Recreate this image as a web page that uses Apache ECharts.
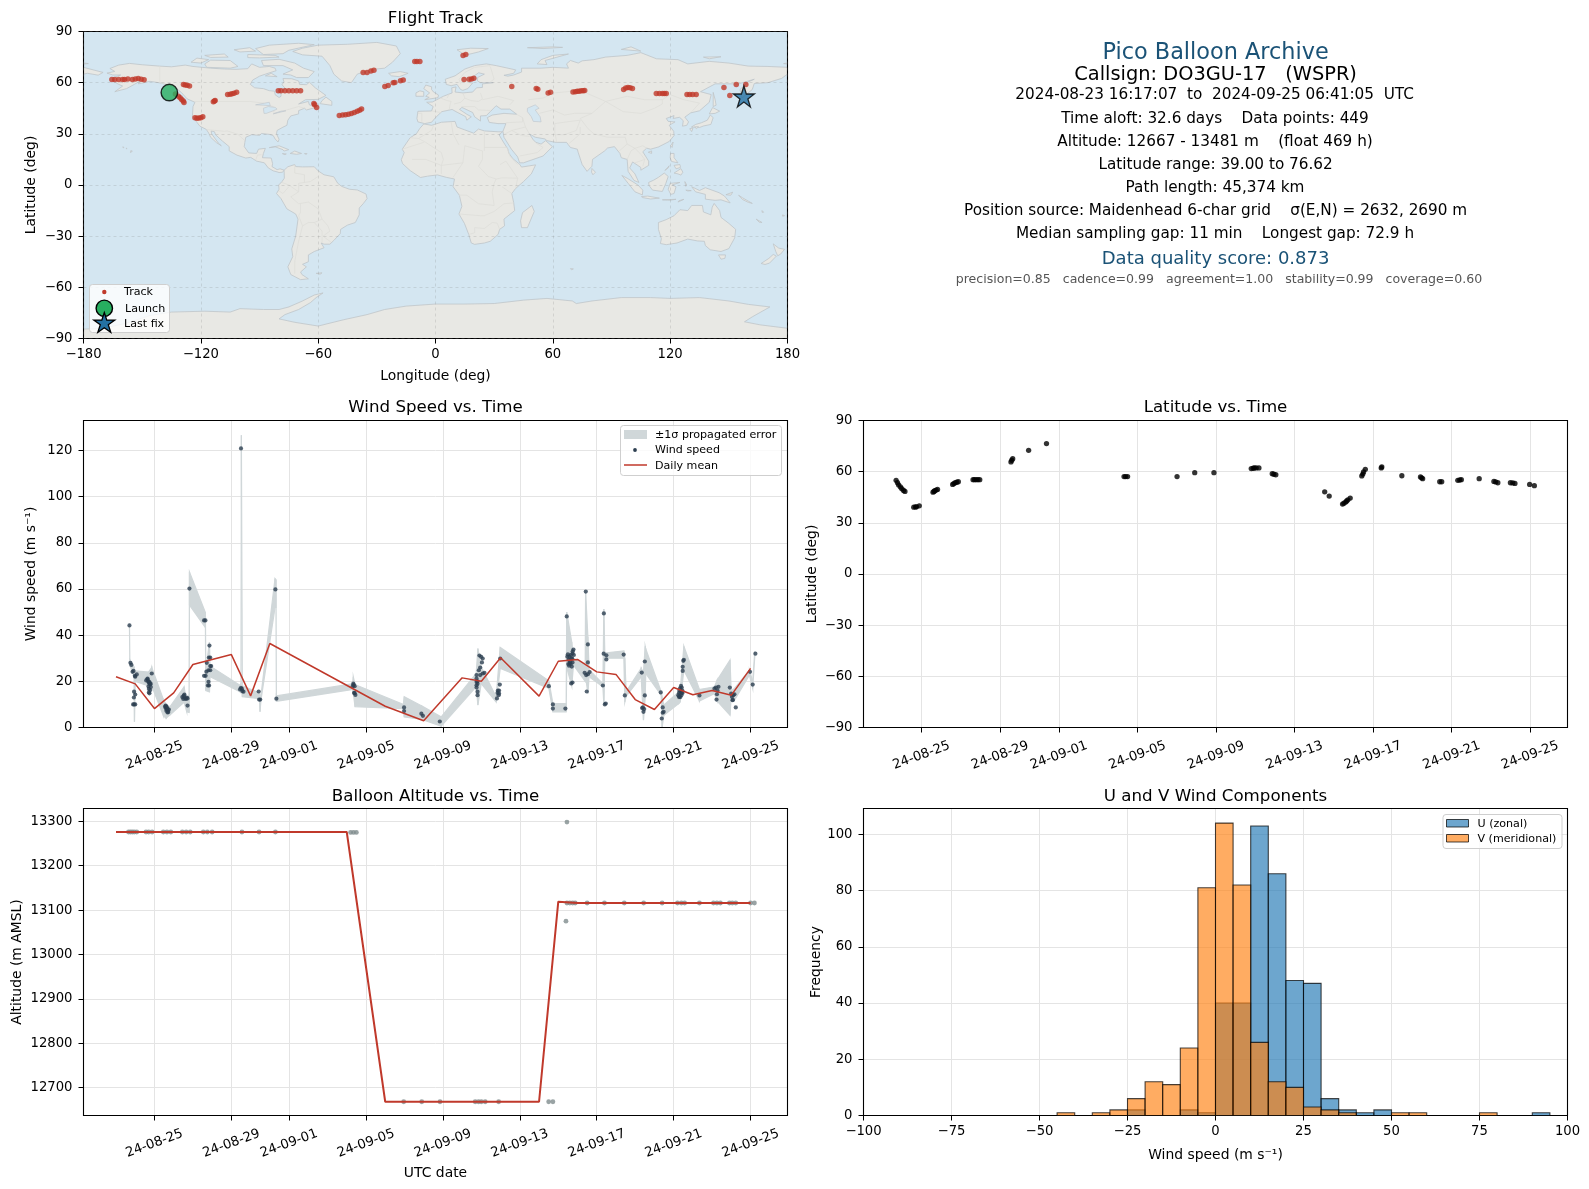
<!DOCTYPE html>
<html><head><meta charset="utf-8">
<style>html,body{margin:0;padding:0;background:#fff}#c{width:1589px;height:1189px}</style>
<script src="https://cdn.jsdelivr.net/npm/echarts@6/dist/echarts.min.js"></script>
</head><body><div id="c"></div>
<script>
// ---------- time ticks (dates) ----------
const dateTicks=['2024-08-25','2024-08-29','2024-09-01','2024-09-05','2024-09-09','2024-09-13','2024-09-17','2024-09-21','2024-09-25'];
// All time series are given in days since 2024-08-25 00:00 UTC.
const trackPoints=[[-165.5,61.9],[-164,61.9],[-162,61.9],[-160,61.9],[-159,61.9],[-157.3,62.2],[-155,61.9],[-153.5,62.2],[-152,62.4],[-150.5,62],[-149,61.7],
[-133,53.3],[-131.5,52.1],[-130.6,51.2],[-129.8,50.1],[-129,49.2],[-128.6,48.4],
[-128.9,58.9],[-128,58.7],[-127,58.5],[-125.8,58],
[-123,39.4],[-122,39.1],[-121,39.3],[-120,39.5],[-119,40],
[-113.6,48.8],[-113,49.3],[-112.7,49.6],
[-106.3,53],[-105,53.2],[-104,53.5],[-103,53.8],[-101.7,54.4],
[-80.4,55.3],[-79,55.2],[-77,55.2],[-75,55.2],[-73,55.2],[-71,55.2],[-69,55.2],
[-62.2,47.8],[-61.8,47],[-60.8,45.4],
[-49.2,40.8],[-47.5,41],[-46,41.2],[-44.5,41.5],[-43,41.9],[-41.5,42.5],[-40,43.2],[-38.8,43.8],[-37.8,44.5],
[-37,66],[-35,66],[-33,66.8],[-31.5,67.3],
[-25.9,57.8],[-24.2,58.4],[-21.6,59.9],[-20.8,60.1],[-17.9,61.1],[-16.5,61.5],
[-10.6,72.4],[-9.5,72.4],[-8,72.4],
[14.1,75.9],[15.5,76.5],
[14.6,61.9],[17.2,62],[18.4,62.2],[19.6,62.6],
[39,57.8],[51.5,56.6],[52.3,56.2],[57.6,54],[58.8,54.4],
[70.3,54.6],[71.5,54.7],[72.5,55],[73.5,55],[74.5,55.2],[75.5,55.3],[76.3,55.4],
[96.2,56],[97.3,56.8],[98.4,57.2],[99.5,57],[100.7,56.6],
[112.9,53.7],[114.5,53.7],[116,53.7],[117,53.7],[118,53.7],
[128.6,53],[130,53],[131.5,53],[133.3,53],
[147.5,57.2],[150.5,52.5],[153.8,58.9],[158.7,58.9]];
const launchPoint=[-136.1,54.2];
const lastFixPoint=[157.7,51.9];

const windPoints=[[-1.3,44.2],[-1.25,28],[-1.2,27.1],[-1.14,24.1],[-1.09,24.5],[-1.06,15.5],[-1,14.3],[-1.07,13],[-1.06,10],[-1.11,10],[-1,10],[-0.92,23],[-1,22],[-1.02,22.4],
[-0.36,21.2],[-0.43,20.4],[-0.31,19.7],[-0.26,19],[-0.36,20.9],[-0.26,19.7],[-0.22,18.7],[-0.31,17.8],[-0.19,17.5],[-0.29,16.7],[-0.22,16.2],[-0.29,15.2],[-0.31,20],[-0.14,23.4],[-0.2,19],[-0.26,14.8],
[0.55,9],[0.58,9.5],[0.6,8.3],[0.63,8.8],[0.65,7.8],[0.67,8.3],[0.7,7.3],[0.72,6.7],[0.62,7.3],[0.68,6.5],[0.75,7.8],[0.6,9.2],
[1.45,13.2],[1.5,12.4],[1.52,13.8],[1.56,14.2],[1.6,12.6],[1.64,12.4],[1.68,13],[1.72,12.6],[1.72,9.5],[1.82,60.2],
[2.58,46.4],[2.65,46.4],[2.86,35.5],[2.83,30.3],[2.9,30.3],[2.72,28],[2.9,26.6],[2.95,26.6],[2.81,24.8],[2.9,24.8],[2.7,24.2],[2.66,22.4],[2.58,22.4],[2.81,19.8],[2.78,18.2],[2.84,18.2],
[4.5,120.9],[4.45,16.5],[4.5,17.2],[4.55,16.7],[4.57,15.8],[4.63,15.5],[5.42,15.6],[5.44,12.1],[5.5,12.1],[6.29,59.8],[6.34,12.5],
[10.34,19],[10.31,17.9],[10.41,17.9],[10.36,18.5],[10.41,14.9],[10.45,14.1],[10.38,15],
[12.98,8.7],[12.98,7.1],[13.88,6],[13.96,5.05],[14.84,2.6],
[16.75,22.7],[16.75,21.2],[16.75,19.8],[16.75,18.3],[16.75,17.3],[16.8,15.5],[16.8,14],[16.9,31.2],[16.99,30.6],[17.07,29.9],[17.03,28.2],[16.94,26],[16.87,24.8],[16.94,22.7],[17.07,23.4],[17.16,23.7],[16.8,20],[16.8,19],
[17.98,29.9],[17.96,18.6],[17.86,16],[17.92,14.7],[17.9,14],[17.81,12.6],[17.84,15],[17.92,16],
[20.51,17.9],[20.72,10],[20.72,8.2],[21.37,8.2],[21.44,48.1],
[21.79,33.8],[21.5,31.7],[21.58,30.7],[21.65,31.4],[21.74,32.1],[21.54,29.3],[21.6,27.8],[21.72,29.9],[21.81,31.4],[21.47,30.7],[21.52,27.5],[21.65,27.5],[21.74,28.2],[21.56,26.8],[21.7,26.4],[21.62,28.6],[21.68,30],[21.75,33],
[21.67,19.1],[21.74,19.5],[22.43,58.9],[22.54,36],[22.54,28.2],[22.37,23.7],[22.45,22.7],[22.54,23.1],[22.63,24],[22.48,15.6],
[23.32,18.2],[23.37,49.4],[23.36,32],[23.5,31.3],[23.5,29.5],[23.42,10],[23.47,10.4],[24.4,31.6],[24.46,13.9],
[25.34,23.8],[25.5,28.6],[25.5,13.9],[25.4,8.7],[25.47,8],[25.43,6.8],[25.36,8.4],[26.33,15.2],[26.43,8.7],[26.48,6.8],[26.43,6.4],[26.38,3.9],
[27.53,29.3],[27.5,28.9],[27.47,26.3],[27.47,24.5],[27.24,14],[27.28,15],[27.3,16],[27.33,17],[27.38,18],[27.42,17.3],[27.45,16],[27.3,13.5],[27.35,13.2],[27.4,14],[27.46,15],[27.28,13.2],[27.36,15.5],[27.42,15],
[28.34,13.9],[29.12,16.8],[29.2,17.3],[29.33,17.6],[29.25,14.4],[29.23,12.1],[29.28,16],[29.92,17.3],[29.99,14.7],[30.16,14.4],[30.03,13.3],[30.06,11.8],[30.23,8.7],[30.1,14],[30.08,12],
[30.97,24.1],[31.11,18.6],[31.25,32]];
// fill-between band: [day, lower, upper]
const windBand=[[-1.3,43.5,45],[-1.28,27,29.5],[-1.06,22,26.3],[-1.04,2.5,17],[-1,20,24.5],[-0.31,18,24],[-0.14,18,26],[0.47,5,12],[0.61,4,10],[0.81,5.5,9],[1.54,11,17.6],[1.68,6.8,11],[1.8,6.5,14],[1.82,53,67.4],[2.65,43.3,49.8],[2.67,16,25],[2.86,15.4,37],[2.89,22,26.6],[4.45,15.5,18.3],[4.5,15,19],[4.52,115,126.6],[4.57,13.3,18],[5.46,12.5,15],[5.49,6.8,13],[5.54,12,14],[6.27,52,64.5],[6.32,52,64],[6.34,11.4,14],[6.36,11.4,13.7],[10.31,16.5,19],[10.34,15,22],[10.43,9,18.6],[12.94,8.2,10],[12.99,4.6,13.3],[13.89,3.5,9.4],[14.91,0.6,4.6],[16.73,17.6,23.4],[16.82,9.7,34.2],[16.99,19,26.3],[17.77,11,13.3],[17.98,25.6,34.7],[20.51,17,20.2],[20.72,6.8,10.4],[21.41,6.8,10.4],[21.44,26,50],[21.7,18,37],[21.79,27,30],[22.4,20,27],[22.42,22,58.9],[22.54,14.7,39.3],[22.6,22,25],[23.32,17.6,19],[23.37,10,51.3],[23.42,30,32.3],[24.41,30,33.2],[24.46,11,30],[24.53,13.5,15.5],[25.31,22,25.6],[25.43,3.2,24],[25.52,13,35.2],[25.55,23.4,34],[26.35,14,15.5],[26.4,0,13],[26.49,5.3,9.7],[27.27,10.4,15.5],[27.34,11,16],[27.53,24.8,35.2],[28.34,11.5,16.5],[29.12,14.7,17.6],[29.26,11.5,20.5],[29.93,5.3,29.2],[29.99,13,16],[30.16,11.8,16.9],[30.94,22.7,24.8],[31.11,17,20],[31.22,31,33]];
const windMean=[[-2,22],[-1,18.9],[0,8.2],[1,15],[2,27.3],[4,31.6],[5,13.7],[6,36.4],[12,9.2],[14,2.9],[16,21.5],[17,20],[18,30.2],[20,13.6],[21,28.7],[22,29.5],[23,24.1],[24,23],[25,12.1],[26,7.8],[27,17.3],[28,14.2],[29,16],[30,14],[31,25.6]];

const latPoints=[[-1.29,54.9],[-1.22,53.5],[-1.16,52.2],[-1.07,51],[-1,50],[-0.91,49],[-0.84,48.4],
[-0.39,39.2],[-0.3,39.3],[-0.25,39.4],[-0.11,40],
[0.59,48],[0.64,48.4],[0.68,48.8],[0.75,49.2],[0.82,49.6],
[1.59,52.5],[1.65,53],[1.72,53.5],[1.8,53.8],[1.88,54.1],
[2.63,55.3],[2.7,55.3],[2.79,55.3],[2.88,55.3],[2.97,55.3],
[4.56,65.7],[4.6,66.7],[4.65,67.6],[5.46,72.5],[6.37,76.5],
[10.32,57.1],[10.4,57.1],[10.5,57.1],[13.02,57.1],[13.92,59.4],[14.9,59.4],
[16.8,61.8],[16.9,62],[16.96,62.2],[17.05,62.2],[17.19,62.2],[17.87,58.8],[17.95,58.5],[18.05,58.2],
[20.54,48.2],[20.77,45.7],[21.45,41],[21.52,41.5],[21.61,42.2],[21.66,42.8],[21.72,43.5],[21.84,44.5],
[22.43,57.5],[22.48,58.6],[22.52,59.8],[22.61,61.4],[23.42,62.2],[23.45,62.8],[24.47,57.6],[25.42,56.9],[25.48,56.4],[25.53,55.9],
[26.4,54.1],[26.5,54.1],[27.32,54.9],[27.42,55.1],[27.5,55.3],[28.41,55.9],[29.16,54.3],[29.25,54],[29.36,53.5],[30,53.5],[30.12,53.4],[30.23,53.1],[30.98,52.5],[31.22,51.8]];

const altPoints=[[-1.35,13276],[-1.25,13276],[-1.15,13276],[-1.05,13276],[-0.92,13276],[-0.44,13276],[-0.3,13276],[-0.12,13276],[0.46,13276],[0.65,13276],[0.85,13276],[1.45,13276],[1.65,13276],[1.86,13276],[2.54,13276],[2.75,13276],[3,13276],[4.55,13276],[5.44,13276],[6.29,13276],[10.2,13275],[10.35,13275],[10.5,13275],
[12.96,12668],[13.9,12668],[14.85,12668],[16.68,12668],[16.85,12668],[17,12668],[17.2,12668],[17.9,12668],[20.5,12668],[20.72,12668],
[21.45,13298.5],[21.4,13075],[21.45,13116],[21.6,13116],[21.75,13116],[21.88,13116],[22.5,13116],[23.4,13116],[24.43,13116],[25.44,13116],[26.4,13116],[27.2,13116],[27.4,13116],[27.57,13116],[28.34,13116],[29.07,13116],[29.25,13116],[29.43,13116],[29.9,13116],[30.05,13116],[30.23,13116],[31,13116],[31.2,13116]];
const altMean=[[-2,13276],[-1,13276],[0,13276],[1,13276],[2,13276],[4,13276],[5,13276],[6,13276],[10,13276],[12,12668],[14,12668],[16,12668],[17,12668],[18,12668],[20,12668],[21,13119],[22,13116],[23,13116],[24,13116],[25,13116],[26,13116],[27,13116],[28,13116],[29,13116],[30,13116],[31,13116]];

// histogram: bins of 5 m/s: [left edge, count]
const uBins=[[-25,2],[-10,2],[-5,1],[0,40],[5,40],[10,103],[15,86],[20,48],[25,47],[30,6],[35,2],[40,1],[45,2],[90,1]];
const vBins=[[-45,1],[-35,1],[-30,2],[-25,6],[-20,12],[-15,11],[-10,24],[-5,81],[0,104],[5,82],[10,26],[15,12],[20,10],[25,3],[30,2],[35,1],[50,1],[55,1],[75,1]];

const infoLines=[
 ['Pico Balloon Archive',53,22.4,'#1a5276',1215.6],
 ['Callsign: DO3GU-17   (WSPR)',75,19.4,'#000',1215.6],
 ['2024-08-23 16:17:07  to  2024-09-25 06:41:05  UTC',95.5,15.25,'#000',1214.6],
 ['Time aloft: 32.6 days    Data points: 449',119.5,15.25,'#000',1215],
 ['Altitude: 12667 - 13481 m    (float 469 h)',142.5,15.25,'#000',1215],
 ['Latitude range: 39.00 to 76.62',165.5,15.25,'#000',1215.6],
 ['Path length: 45,374 km',188.5,15.25,'#000',1215],
 ['Position source: Maidenhead 6-char grid    σ(E,N) = 2632, 2690 m',211,15.25,'#000',1215.6],
 ['Median sampling gap: 11 min    Longest gap: 72.9 h',234.5,15.25,'#000',1215],
 ['Data quality score: 0.873',259,18,'#1a5276',1215.6],
 ['precision=0.85   cadence=0.99   agreement=1.00   stability=0.99   coverage=0.60',279.5,12.55,'#555',1219]
];

// ---------- approximate world outlines (lon,lat) ----------
const landPolys=[
[[-168,65.6],[-164,66.6],[-166.5,68.3],[-162,70.3],[-156.5,71.3],[-150,70.5],[-141,69.7],[-135,69.3],[-128,70.3],[-124,69.5],[-115,68.5],[-108,68],[-102,67.8],[-96,68.2],[-94,71],[-90,69],[-85,69.5],[-82,68.5],[-81.5,67],[-87,65],[-90,63.8],[-93.5,61.5],[-94.7,59],[-92.5,57],[-88,56.5],[-85,55.3],[-82.3,55],[-82,52.9],[-80,51.3],[-79,52],[-79,54.5],[-76.7,56.5],[-78.5,58.8],[-77.5,60.5],[-78,62.4],[-73.5,62.3],[-70,61],[-69.5,59],[-66,58.8],[-64.5,60.3],[-61.5,57],[-56,52.5],[-60,50.2],[-66.5,50],[-70,47.5],[-65,49],[-64.5,47],[-61,45.5],[-66,44],[-67,45],[-70,43.6],[-70,41.7],[-74,40.5],[-75.5,38],[-76,35],[-78,33.9],[-81,32],[-81.3,30],[-80,26.8],[-80.5,25.2],[-82,27],[-83,29],[-85,29.7],[-89,30.2],[-90,29.1],[-94,29.5],[-97,28],[-97.5,25],[-97.8,22.5],[-95.5,18.8],[-91.5,18.5],[-90.5,21],[-87,21.5],[-88,18.5],[-88.5,16],[-84,15.8],[-83.3,12.5],[-83.6,10.8],[-81,9],[-79.5,9.5],[-77.4,8.7],[-78.2,7.5],[-80,7.3],[-81,7.7],[-83,8.3],[-85.5,10],[-87.5,13],[-91.5,14],[-94.5,16.2],[-97,15.8],[-101.5,17.5],[-105.5,20],[-105.5,22.5],[-109,25.8],[-112.5,29.5],[-113,31.2],[-114.7,31.7],[-114.5,30],[-111,24.5],[-109.5,23],[-112,24.8],[-115,28],[-116,30.5],[-117.2,32.6],[-120.5,34.5],[-122.5,37.5],[-124.3,40.3],[-124,46],[-123,48.5],[-127,50.5],[-130,54.3],[-133,57],[-137,58.5],[-140,59.7],[-146,60.8],[-149,60],[-152,59.3],[-151,61],[-154,59],[-158,56.5],[-164,54.7],[-160,58],[-162,59],[-165,61],[-164,63.2],[-161,64.5],[-165,64.5]],
[[-77.4,8.7],[-75.5,10.7],[-72,12],[-71.5,10.8],[-68,10.6],[-62,10.7],[-60,8.3],[-57,6],[-52,4.8],[-50,1],[-48,-0.8],[-44,-2.5],[-40,-2.9],[-35.5,-5.3],[-35,-8],[-37,-11],[-39,-13.5],[-39,-17.5],[-41,-22],[-45,-23.5],[-48.5,-26],[-48.7,-28.5],[-52,-32.5],[-54,-34.7],[-57,-34.7],[-58.5,-34],[-57,-36.8],[-62,-39],[-65,-41],[-65,-45],[-68,-46.5],[-66,-48],[-69,-51],[-68.3,-52.5],[-65,-55],[-69,-55.5],[-74,-52.5],[-75.5,-48],[-73,-42],[-73.5,-37.5],[-71.5,-30],[-70.3,-20],[-71.5,-17],[-76,-14],[-79,-8],[-81.3,-5],[-80,-2.5],[-80.2,0],[-78.5,2],[-77.3,4],[-77.4,8]],
[[-6,35.8],[-2,35],[3,36.8],[10,37.3],[11,34],[15,32.3],[19.5,30.4],[22,32.8],[25,31.7],[32,31.2],[34.3,31.2],[32.5,29.5],[34,26.5],[37,21],[37.5,18.7],[39.5,15.5],[43,12.2],[44,10.5],[51.2,11.8],[49,6.5],[45,2],[41,-2],[39,-5],[40,-10.5],[40.5,-15],[35,-20],[35.3,-24],[32.8,-26],[32,-29],[28,-33],[25,-34],[20,-34.8],[18.3,-34],[17,-29],[14.8,-22.5],[12,-17],[13.5,-12.5],[12.2,-6],[9,-1],[9.7,3.5],[5.5,4.5],[1,5.9],[-4,5.2],[-7.7,4.4],[-13,8.5],[-16.8,12.5],[-17.5,14.8],[-16,19],[-17,21],[-13,27.7],[-9.8,30],[-8,33.2]],
[[-5.5,36],[-9,37],[-9.5,39],[-9,43.2],[-2,43.4],[-1.2,46],[-4.5,48.5],[-1.5,48.7],[1.5,50.5],[4,52],[8.5,54],[8.3,57],[10.5,57.5],[10,54.5],[14,54],[19,54.5],[21,57],[24,57.2],[24,59.3],[29.5,60],[23,60],[21.5,61],[21.5,63],[25,65],[22,65.8],[17.5,62],[17.5,60],[19,59.8],[16.5,56.5],[14,55.5],[12.8,56],[11,59],[8,58.2],[5.5,59],[5,62],[10,64],[15,68],[20,70],[26,71],[31,70],[41,67.5],[40,65.5],[35,64.3],[37,63.8],[40,64.5],[44,66.2],[44,68.5],[54,68.5],[60,69],[68,68.5],[67,71],[69,73],[73,71.5],[75,72.8],[81,73.5],[87,75],[98,76],[105,77.6],[113,74],[124,73.5],[129,71],[140,72.5],[150,71.5],[160,69.7],[170,69.5],[180,69],[180,65],[177,62.5],[170,60],[163,59.5],[162,56],[156.7,51],[155.7,56],[160,60.5],[163,62],[155,59.3],[143,59.3],[135.5,54.7],[141,53],[140,48.5],[135,43.5],[130.5,42.3],[127.5,39.8],[129.4,37],[128.5,35],[126.3,34.5],[126.7,37.7],[124.8,39.7],[121.5,39],[122,40.7],[118,39],[119,37.3],[122.5,37],[119.5,35],[121.8,31.5],[122,29],[119.5,25.5],[114,22.3],[110,21],[108,21.6],[106,19.5],[109,14],[109,11.5],[105,8.7],[105,10.3],[100.8,13.5],[99.3,10],[102,6.5],[104,1.5],[101.5,2.7],[98.5,8],[98,15],[95,16],[94.3,18.5],[91.5,22.5],[88,21.7],[86.5,20],[80.3,15],[80,11],[77.5,8],[75,12],[73,19],[72.5,21],[69,22],[67,25],[61.5,25],[57,26],[56,27],[51,28],[48,30],[50,26.5],[51.3,25],[54,24],[56.3,26],[59.8,22.5],[55,17],[45,13],[43,13],[42,16.5],[38.8,21],[35,28],[34.5,31.5],[36,36],[32,36],[27.5,36.7],[26.5,39.5],[29,41],[35,42],[41.5,41.5],[38,44.5],[33.5,44.5],[31,46.5],[28,43],[26,40.7],[23,40.5],[23,37.5],[20,40],[19,42.5],[13.5,45.5],[12.3,44.3],[16,41.5],[18.3,40],[16,38],[15.5,40],[10.5,43],[8.5,44.3],[3.2,43],[0,39.5],[-2,36.8]],
[[-73,78.3],[-68,80.2],[-60,82],[-45,82.5],[-30,83.6],[-20,81.5],[-18,77],[-22,72],[-26,68.5],[-33,67.7],[-40,65],[-43,60],[-48,61],[-52,65],[-54,70],[-58,75.5],[-68,76.3]],
[[-80,73.7],[-72,71.5],[-67.5,68.5],[-62,66.5],[-65,63],[-71,63],[-74,64.5],[-78,65],[-73,67.5],[-78,70],[-88,70],[-89,73]],
[[-92,80],[-85,82],[-70,83.1],[-62,82.3],[-75,79],[-78,77],[-88,76.5]],
[[-117,69],[-105,68.5],[-101,69.5],[-105,73],[-115,73.2],[-118,71]],
[[-125,72],[-122,74.4],[-116,73.5],[-120,71.5]],
[[-96,74.7],[-90,74.5],[-80,75],[-82,76],[-96,76.5]],
[[-118,76],[-108,76.8],[-106,75],[-115,74.8]],
[[-100,78],[-92,78.5],[-95,80.5],[-103,79.3]],
[[-87,64],[-81,63.5],[-84,65.5]],
[[-59,47.7],[-53,46.7],[-53,49],[-56,51.5],[-58,49.5]],
[[-85,21.9],[-80,23],[-75,20.7],[-77.5,19.9],[-78,20.7],[-82,22.4]],
[[-74.3,18.5],[-72,19.9],[-68.5,18.5],[-71,18]],
[[-78.3,18.4],[-76.3,18.2],[-77,17.8]],
[[-67,18.4],[-65.7,18.4],[-66,18]],
[[-160,22.2],[-159.3,22.2],[-159.5,21.8]],
[[-158.2,21.6],[-157.7,21.4],[-158,21.2]],
[[-156,19],[-155,19.8],[-155.8,20.2]],
[[-24,65.5],[-18,66.5],[-14,65.5],[-18.5,63.5],[-22.5,64]],
[[-5.5,50],[1.3,51.2],[1.5,52.8],[-1,54.5],[-2,56],[-2,57.6],[-5,58.6],[-6,56.5],[-3,54],[-5,52],[-3.2,51.4]],
[[-10,52],[-6,52],[-6,54.7],[-8,55.2],[-10,54]],
[[14,77],[17,76.6],[22,78],[27,80],[18,80.2],[11,79.3]],
[[52,71],[57,70.6],[56,73],[68,76.8],[60,76],[54,73.5]],
[[95,79.5],[105,78.5],[100,81]],
[[137,75],[146,75.2],[140,74]],
[[178,71.2],[180,71.5],[180,70.9]],
[[-180,71.5],[-177.5,71.2],[-180,70.9]],
[[47,80.5],[60,81],[65,80.7],[55,80]],
[[142,54.3],[143,50],[143.5,46.8],[142,46],[142,50]],
[[130.9,34],[133,35.5],[136,36.5],[139,38],[140.5,41],[142,39.5],[140.8,35.5],[137,34.6],[135,33.7]],
[[130,33],[131.7,33.5],[131,31.3]],
[[132.5,34],[134.5,34.2],[133.5,33]],
[[140,41.7],[141.7,45.4],[145.3,43.3],[143,42]],
[[120.2,23],[121.5,25.2],[121,22]],
[[108.8,19.2],[110.5,20],[110.5,18.5]],
[[120.2,18.5],[122,18.5],[122,16],[124,13],[120.7,13.8],[120,16]],
[[122,7],[125.5,9.6],[126.5,7.5],[125.5,5.8],[124,6.5]],
[[122,11.5],[125,12],[125.3,10.3],[123,9.5]],
[[117.3,8.5],[119.5,11.3],[119,10]],
[[109,1.5],[111.5,2.8],[114,4.5],[117,7],[119,5],[117.8,1],[116,-3.8],[111,-3],[109.2,-0.3]],
[[95.3,5.6],[98,4],[103.5,0],[106,-3],[105.8,-5.8],[102,-4],[98.5,1]],
[[105.3,-6.8],[108.5,-6.5],[114.5,-7.7],[110,-8.2],[106,-7.4]],
[[120,1],[125,1.5],[121,0],[123,-1],[122,-5],[120.3,-5.5],[119,-2.5]],
[[131,-1],[135,-3.2],[138,-1.6],[145,-4.5],[147.8,-6.5],[150.7,-10.5],[146,-8.7],[143,-9],[138,-8.3],[138,-5.5],[133,-4]],
[[148.5,-5.7],[152,-4.2],[151,-6]],
[[124,-10],[127,-8.4],[124.5,-9.2]],
[[116,-8.7],[123,-8.4],[120,-8.9]],
[[127.5,2],[128.5,0],[128,-0.8]],
[[128,-3],[130.8,-3.3],[129,-3.5]],
[[155,-6],[157,-7.5],[160,-9.5],[162,-10.8],[160,-10.2],[157,-8.5]],
[[164,-20],[167,-22],[165.5,-21.8]],
[[177.5,-17.5],[178.5,-18],[177.5,-18.3]],
[[167,-15],[167.8,-16],[167,-16]],
[[80,9.7],[81.8,7.5],[80.5,6],[79.8,7.5]],
[[49.3,-12],[50.5,-15.5],[47,-25],[44,-25],[43.5,-21],[44.5,-16.2]],
[[114,-22],[114,-26],[115.5,-31.5],[115,-34.3],[118,-35],[123.5,-34],[129,-31.7],[134,-32.8],[137.5,-33],[138,-35.5],[140.5,-38],[146,-39],[150,-37.3],[153,-31],[153.5,-26],[150,-22.5],[146,-19],[145.3,-15],[142.5,-10.8],[141.5,-13],[140.8,-17.5],[137,-15.8],[136.5,-12],[131,-12],[129,-15],[125,-14.5],[122,-18],[118,-20.3]],
[[144.7,-41],[148.3,-41],[148,-43],[146,-43.5]],
[[172.7,-34.5],[175.5,-37],[178.5,-37.7],[176.5,-40.5],[175,-41.5],[174,-39]],
[[172.7,-40.7],[174.3,-41.7],[170.8,-45.8],[168.5,-46.6],[166.5,-46],[170.5,-43]],
[[-61,-51.8],[-58,-51.5],[-59,-52.3]],
[[69,-49],[70.5,-49.2],[69.5,-49.7]],
[[-180,69],[-175,67.5],[-170,66],[-172.5,64.4],[-178,65.5],[-180,65]],
[[-180,-90],[-180,-84.5],[-170,-84],[-158,-81],[-146,-76.5],[-135,-74.5],[-118,-74],[-105,-74.5],[-100,-72.5],[-88,-73],[-80,-73],[-75,-71.5],[-68,-68],[-62,-64.5],[-57.5,-63.3],[-61,-66],[-64,-69],[-70,-73],[-77,-76],[-80,-78.5],[-72,-80.5],[-60,-82.7],[-47,-79],[-35,-76],[-26,-73],[-15,-71],[0,-69.8],[15,-69.8],[30,-69.5],[45,-67.5],[57,-66.5],[70,-68],[72,-69.5],[80,-68],[95,-66],[110,-66],[120,-66.5],[135,-66],[150,-68],[160,-70],[171,-71.5],[162,-77.3],[158,-80.2],[166,-82],[180,-84],[180,-90]]
];
const waterPolys=[[[47,45],[51,47],[53,45],[51,44],[53.5,40],[54,37],[50,37.3],[49,40],[47,43]],[[-92,47],[-85,48.5],[-84.5,46.5],[-88,46.8]],[[-88,45],[-85.5,46],[-82,45.5],[-81,44.5],[-83,43.5],[-86.5,42],[-87.7,42]],[[-83,41.7],[-79,42.8],[-76.5,43.5],[-79,43.3],[-81,42.5]]];
const borderLines=[[[-123,49],[-95,49],[-88,48],[-83,46],[-82.5,42],[-76,44],[-70,46],[-67,45]],[[-141,69.7],[-141,60],[-135,58.5]],[[-117,32.5],[-108,31.5],[-106.5,31.7],[-101,29.7],[-97.5,26]],[[-92,14.5],[-91,17.5],[-89,17.8]],[[-60,5],[-64,2],[-70,1],[-70,-4],[-74,-7],[-70,-11],[-65,-10],[-60,-14],[-58,-20],[-55,-24],[-54,-27],[-57.5,-30],[-53.5,-33.5]],[[-70,-18],[-68,-24],[-70,-33],[-72,-45],[-72,-52]],[[-72,12],[-72,7],[-67,6],[-67,1.5]],[[-78.5,1.5],[-75,0],[-70,-4]],[[-80,-3.5],[-78,-5],[-75,-1]],[[-69,-11],[-69,-16],[-70,-18]],[[-62,-22],[-65,-22],[-68,-24]],[[-58,-20],[-62,-22],[-58,-27],[-58,-34]],[[25,31.5],[25,20]],[[25,22],[36.8,22]],[[24,20],[24,15],[22,11],[27,5],[31,3.5],[34,4.2],[42,4],[41,-2]],[[12,-6],[16,-6],[22,-11],[30,-12],[29,-4],[30,1],[31,3.5]],[[-8.7,27.3],[-2,32],[-1,35]],[[3,19],[-5,25],[-8.7,27.3]],[[12,23.5],[9,30],[8,37]],[[3,19],[4,15],[3,11.5]],[[3,6.5],[3,11.5],[14,13],[9,4.5]],[[17,-29],[20,-28],[20,-25],[25,-25.5],[29,-22],[31.5,-22.3],[32.8,-26]],[[12,-17],[23,-18],[25,-18],[30,-15.5],[35,-11],[40,-10.5]],[[34,-1],[39,-5]],[[14,13],[15,23],[24,20]],[[-13,27.7],[-8.7,27.3]],[[-17,21],[-6,25]],[[-12,15],[-5,15],[3,11.5]],[[36.8,22],[38,17],[42,12]],[[33,12],[36,14],[42,4]],[[47.5,50],[55,51],[61,54],[70,55],[77,54],[87,49]],[[87,49],[98,52],[107,50],[116,50],[120,53],[127,50],[135,48],[131,43]],[[87,49],[96,43],[105,42],[112,45],[116,47.5],[116,50]],[[80,42],[74,39],[78,33],[81,30],[88,28],[97,28],[98,24],[102,21.5],[106,23],[108,21.6]],[[87,49],[80,42]],[[53,42],[60,44],[66,41],[71,42],[80,42]],[[44.5,39.5],[46,34],[48,30]],[[61,36],[61,31],[62,25]],[[61,36],[67,37],[74,38],[72,32],[66,29.5],[61,29.5]],[[74,34],[74,30],[70,26],[68,24]],[[34.9,29.5],[39,32],[44,29],[48,28.5]],[[43,17],[52,19],[55,22],[51.5,24.5]],[[-1.7,43.4],[3,42.4]],[[-9,42],[-7,42],[-7,37.2]],[[2.5,51],[6,49.5],[8,49],[7.5,47.5],[7,44]],[[7,53.5],[6,51]],[[14,54],[15,51],[13,48.5],[9.5,47.5]],[[23,54],[24,50.5],[22,49],[18,49.5],[15,51]],[[24,50],[32,52],[40,49.5],[38,47]],[[28,69.5],[30,62],[28,60.5]],[[13,59],[12,62],[15,66],[20,69],[28,70]],[[13.5,46],[20,46],[22,44],[28,43.7]],[[36,36.5],[44.5,37],[44.5,39.5],[41.5,41.5]],[[98,24],[94,20]],[[98,15],[100,20],[102,21.5]],[[102,21.5],[105,18],[107,15],[106,11]],[[102,13],[107,15]],[[39,32],[46,34]]];

// ---------- helpers ----------
const T0=Date.UTC(2024,7,25), DAY=86400000;
const FONT='DejaVu Sans';
const TICKFONT=13.2;
const tickDays=dateTicks.map(s=>(Date.parse(s+'T00:00:00Z')-T0)/DAY);
const pad=n=>String(n).padStart(2,'0');
const fmtDay=v=>{const t=new Date(T0+v*DAY);return pad(t.getUTCFullYear()%100)+'-'+pad(t.getUTCMonth()+1)+'-'+pad(t.getUTCDate());};
const minus=v=>String(v).replace('-','\u2212');
const TICK={show:true,length:5,lineStyle:{color:'#000',width:1}};
const SPLIT={show:true,lineStyle:{color:'#e4e4e4',width:1}};
const NAME={fontFamily:FONT,fontSize:13.9,color:'#000'};

function timeAxis(i,dmin,dmax,name,gap){
 return {type:'value',gridIndex:i,min:dmin,max:dmax,name:name||'',nameLocation:'middle',nameGap:gap||30,nameTextStyle:NAME,nameMoveOverlap:false,
  axisLine:{show:false,onZero:false},axisTick:Object.assign({},TICK,{customValues:tickDays}),splitLine:SPLIT,minorTick:{show:false},
  axisLabel:{fontFamily:FONT,fontSize:TICKFONT,color:'#000',rotate:20,align:'center',verticalAlign:'middle',margin:28,customValues:tickDays,formatter:v=>fmtDay(v),hideOverlap:false}};
}
function valAxis(i,min,max,ticks,name,gap,margin){
 return {type:'value',gridIndex:i,min,max,name,nameLocation:'middle',nameGap:gap,nameTextStyle:NAME,nameMoveOverlap:false,
  axisLine:{show:false,onZero:false},axisTick:Object.assign({},TICK,{customValues:ticks}),splitLine:SPLIT,
  axisLabel:{fontFamily:FONT,fontSize:TICKFONT,color:'#000',margin,customValues:ticks,formatter:v=>minus(v),hideOverlap:false}};
}
const range=(a,b,s)=>{const r=[];for(let v=a;v<=b;v+=s)r.push(v);return r;};

const grids=[
 {left:83.5,top:31.5,width:704,height:307},
 {left:83.5,top:420.5,width:704,height:307},
 {left:863.5,top:420.5,width:704,height:307},
 {left:83.5,top:808.5,width:704,height:307},
 {left:863.5,top:808.5,width:704,height:307}
].map(g=>Object.assign(g,{show:true,z:3,borderColor:'#000',borderWidth:1.1,backgroundColor:'transparent'}));

const mapX=valAxis(0,-180,180,range(-180,180,60),'Longitude (deg)',31,10);
const mapY=valAxis(0,-90,90,range(-90,90,30),'Latitude (deg)',45,11);
const MAPSPLIT={show:true,lineStyle:{color:'rgba(120,120,120,0.2)',width:1,type:[3,3]}};
mapX.splitLine=MAPSPLIT;mapY.splitLine=MAPSPLIT;mapX.z=3;mapY.z=3;

const xAxis=[mapX,
 timeAxis(1,-3.69,32.92),
 timeAxis(2,-2.951,32.908),
 timeAxis(3,-3.69,32.92,'UTC date',51),
 valAxis(4,-100,100,range(-100,100,25),'Wind speed (m s\u207B\u00B9)',33,10)];
const yAxis=[mapY,
 valAxis(1,0,133,range(0,120,20),'Wind speed (m s\u207B\u00B9)',45,11),
 valAxis(2,-90,90,range(-90,90,30),'Latitude (deg)',44,11),
 valAxis(3,12637,13329,range(12700,13300,100),'Altitude (m AMSL)',59,11),
 valAxis(4,0,109.2,range(0,100,20),'Frequency',40,11)];

const oceanPoly=[[-180,-90],[180,-90],[180,90],[-180,90]];
const titles=[['Flight Track',435.5,10],['Wind Speed vs. Time',435.5,399],['Latitude vs. Time',1215.5,399],['Balloon Altitude vs. Time',435.5,788],['U and V Wind Components',1215.5,788]]
 .map(t=>({text:t[0],left:t[1],top:t[2],padding:0,textAlign:'center',textStyle:{fontFamily:FONT,fontWeight:'normal',fontSize:16.67,color:'#000'}}));

function polySeries(){
 return {type:'custom',xAxisIndex:0,yAxisIndex:0,coordinateSystem:'cartesian2d',clip:true,silent:true,z:2,
  data:[0],
  renderItem:(params,api)=>{
   const children=[];
   const P=a=>a.map(p=>api.coord(p));
   children.push({type:'polygon',shape:{points:P(oceanPoly)},style:{fill:'#d4e6f1',stroke:'none'}});
   landPolys.forEach(a=>children.push({type:'polygon',shape:{points:P(a)},style:{fill:'#e8e8e4',stroke:'#bfc5c9',lineWidth:0.8}}));
   borderLines.forEach(a=>children.push({type:'polyline',shape:{points:P(a)},style:{fill:'none',stroke:'#dcdcd8',lineWidth:0.7}}));
   waterPolys.forEach(a=>children.push({type:'polygon',shape:{points:P(a)},style:{fill:'#d4e6f1',stroke:'#bfc5c9',lineWidth:0.6}}));
   return {type:'group',children};
  }};
}
function bandSeries(){
 return {type:'custom',name:'\u00B11\u03C3 propagated error',xAxisIndex:1,yAxisIndex:1,clip:true,silent:true,z:2,
  data:windBand.slice(0,-1).map((b,i)=>[b[0],b[1],b[2],windBand[i+1][0],windBand[i+1][1],windBand[i+1][2]]),
  encode:{x:[0,3],y:[1,2,4,5]},
  renderItem:(params,api)=>{
   const t0=api.value(0),l0=api.value(1),h0=api.value(2),t1=api.value(3),l1=api.value(4),h1=api.value(5);
   return {type:'polygon',shape:{points:[api.coord([t0,l0]),api.coord([t0,h0]),api.coord([t1,h1]),api.coord([t1,l1])]},style:{fill:'#d0d7d9',stroke:'#d0d7d9',lineWidth:1.2}};
  }};
}
function histSeries(name,bins,color,z){
 return {type:'custom',name,xAxisIndex:4,yAxisIndex:4,clip:true,silent:true,z,
  data:bins.map(b=>[b[0],b[0]+5,b[1]]),encode:{x:[0,1],y:2},
  renderItem:(params,api)=>{
   const a=api.coord([api.value(0),api.value(2)]),b=api.coord([api.value(1),0]);
   return {type:'rect',shape:{x:a[0],y:a[1],width:b[0]-a[0],height:b[1]-a[1]},style:{fill:color,stroke:'rgba(0,0,0,0.72)',lineWidth:1.1}};
  }};
}
const STAR='path://M50 0L61.2 34.5L97.6 34.5L68.2 55.9L79.4 90.5L50 69.1L20.6 90.5L31.8 55.9L2.4 34.5L38.8 34.5Z';
const RED='#c0392b';

const series=[
 polySeries(),
 {type:'scatter',name:'Track',xAxisIndex:0,yAxisIndex:0,data:trackPoints,symbolSize:5.5,itemStyle:{color:RED},z:5,silent:true},
 {type:'scatter',name:'Launch',xAxisIndex:0,yAxisIndex:0,data:[launchPoint],symbolSize:16.5,itemStyle:{color:'#27ae60',borderColor:'#000',borderWidth:1.4},z:6,silent:true},
 {type:'scatter',name:'Last fix',xAxisIndex:0,yAxisIndex:0,data:[lastFixPoint],symbol:STAR,symbolSize:21,itemStyle:{color:'#2471a3',borderColor:'#000',borderWidth:1.3},z:6,silent:true},
 bandSeries(),
 {type:'scatter',name:'Wind speed',xAxisIndex:1,yAxisIndex:1,data:windPoints,symbolSize:4.2,itemStyle:{color:'#2c3e50'},z:4,silent:true},
 {type:'line',name:'Daily mean',xAxisIndex:1,yAxisIndex:1,data:windMean,showSymbol:false,symbol:'none',lineStyle:{color:RED,width:1.5},z:5,silent:true},
 {type:'scatter',name:'Latitude',xAxisIndex:2,yAxisIndex:2,data:latPoints,symbolSize:5.3,itemStyle:{color:'#000'},z:4,silent:true},
 {type:'scatter',name:'Altitude',xAxisIndex:3,yAxisIndex:3,data:altPoints,symbolSize:4.8,itemStyle:{color:'#7f8c8d'},z:4,silent:true},
 {type:'line',name:'Altitude daily mean',xAxisIndex:3,yAxisIndex:3,data:altMean,showSymbol:false,symbol:'none',lineStyle:{color:RED,width:2},z:5,silent:true},
 histSeries('U (zonal)',uBins,'rgba(31,119,180,0.65)',4),
 histSeries('V (meridional)',vBins,'rgba(255,127,14,0.65)',5)
];

// ---------- text panel & legends ----------
const TZ=50;
const txt=(text,x,y,size,color,align)=>({type:'text',z:TZ+1,silent:true,x,y,style:{text,fontFamily:FONT,fontSize:size,fill:color||'#000',textAlign:align||'left',textVerticalAlign:'middle'}});
const box=(x,y,w,h)=>({type:'rect',z:TZ,silent:true,shape:{x,y,width:w,height:h,r:3},style:{fill:'rgba(255,255,255,0.8)',stroke:'#cfcfcf',lineWidth:1}});
function starPts(cx,cy,R){const p=[];for(let i=0;i<10;i++){const r=i%2?R*0.382:R,a=-Math.PI/2+i*Math.PI/5;p.push([cx+r*Math.cos(a),cy+r*Math.sin(a)]);}return p;}
const LEG=11.1;
const graphics=[];
infoLines.forEach(l=>graphics.push(txt(l[0],l[4],l[1],l[2],l[3],'center')));
// map legend
graphics.push(box(89.5,284.5,80,48));
graphics.push({type:'circle',z:TZ+1,silent:true,shape:{cx:104.3,cy:292,r:2.2},style:{fill:RED}});
graphics.push(txt('Track',124,292.5,LEG));
graphics.push({type:'circle',z:TZ+1,silent:true,shape:{cx:104.3,cy:308.3,r:8.2},style:{fill:'#27ae60',stroke:'#000',lineWidth:1.4}});
graphics.push(txt('Launch',125,309,LEG));
graphics.push({type:'polygon',z:TZ+1,silent:true,shape:{points:starPts(104.3,323.5,11)},style:{fill:'#2471a3',stroke:'#000',lineWidth:1.3}});
graphics.push(txt('Last fix',124,324,LEG));
// wind legend
graphics.push(box(620.5,425.5,161,50));
graphics.push({type:'rect',z:TZ+1,silent:true,shape:{x:624,y:430,width:23,height:9},style:{fill:'#d0d7d9'}});
graphics.push(txt('\u00B11\u03C3 propagated error',655,435.5,LEG));
graphics.push({type:'circle',z:TZ+1,silent:true,shape:{cx:635,cy:450,r:1.9},style:{fill:'#2c3e50'}});
graphics.push(txt('Wind speed',655,450.5,LEG));
graphics.push({type:'line',z:TZ+1,silent:true,shape:{x1:624,y1:465,x2:647,y2:465},style:{stroke:RED,lineWidth:1.5}});
graphics.push(txt('Daily mean',655,466.5,LEG));
// hist legend
graphics.push(box(1443,814.5,119,34));
graphics.push({type:'rect',z:TZ+1,silent:true,shape:{x:1446.5,y:819.5,width:22,height:7.5},style:{fill:'rgba(31,119,180,0.65)',stroke:'rgba(0,0,0,0.72)',lineWidth:1}});
graphics.push(txt('U (zonal)',1477.5,824.5,LEG));
graphics.push({type:'rect',z:TZ+1,silent:true,shape:{x:1446.5,y:834.5,width:22,height:7.5},style:{fill:'rgba(255,127,14,0.65)',stroke:'rgba(0,0,0,0.72)',lineWidth:1}});
graphics.push(txt('V (meridional)',1477.5,839.5,LEG));

const chart=echarts.init(document.getElementById('c'),null,{renderer:'canvas',width:1589,height:1189});
chart.setOption({animation:false,backgroundColor:'#fff',textStyle:{fontFamily:FONT},
 title:titles,grid:grids,xAxis,yAxis,series,graphic:{elements:graphics},tooltip:{show:false}});
</script></body></html>
